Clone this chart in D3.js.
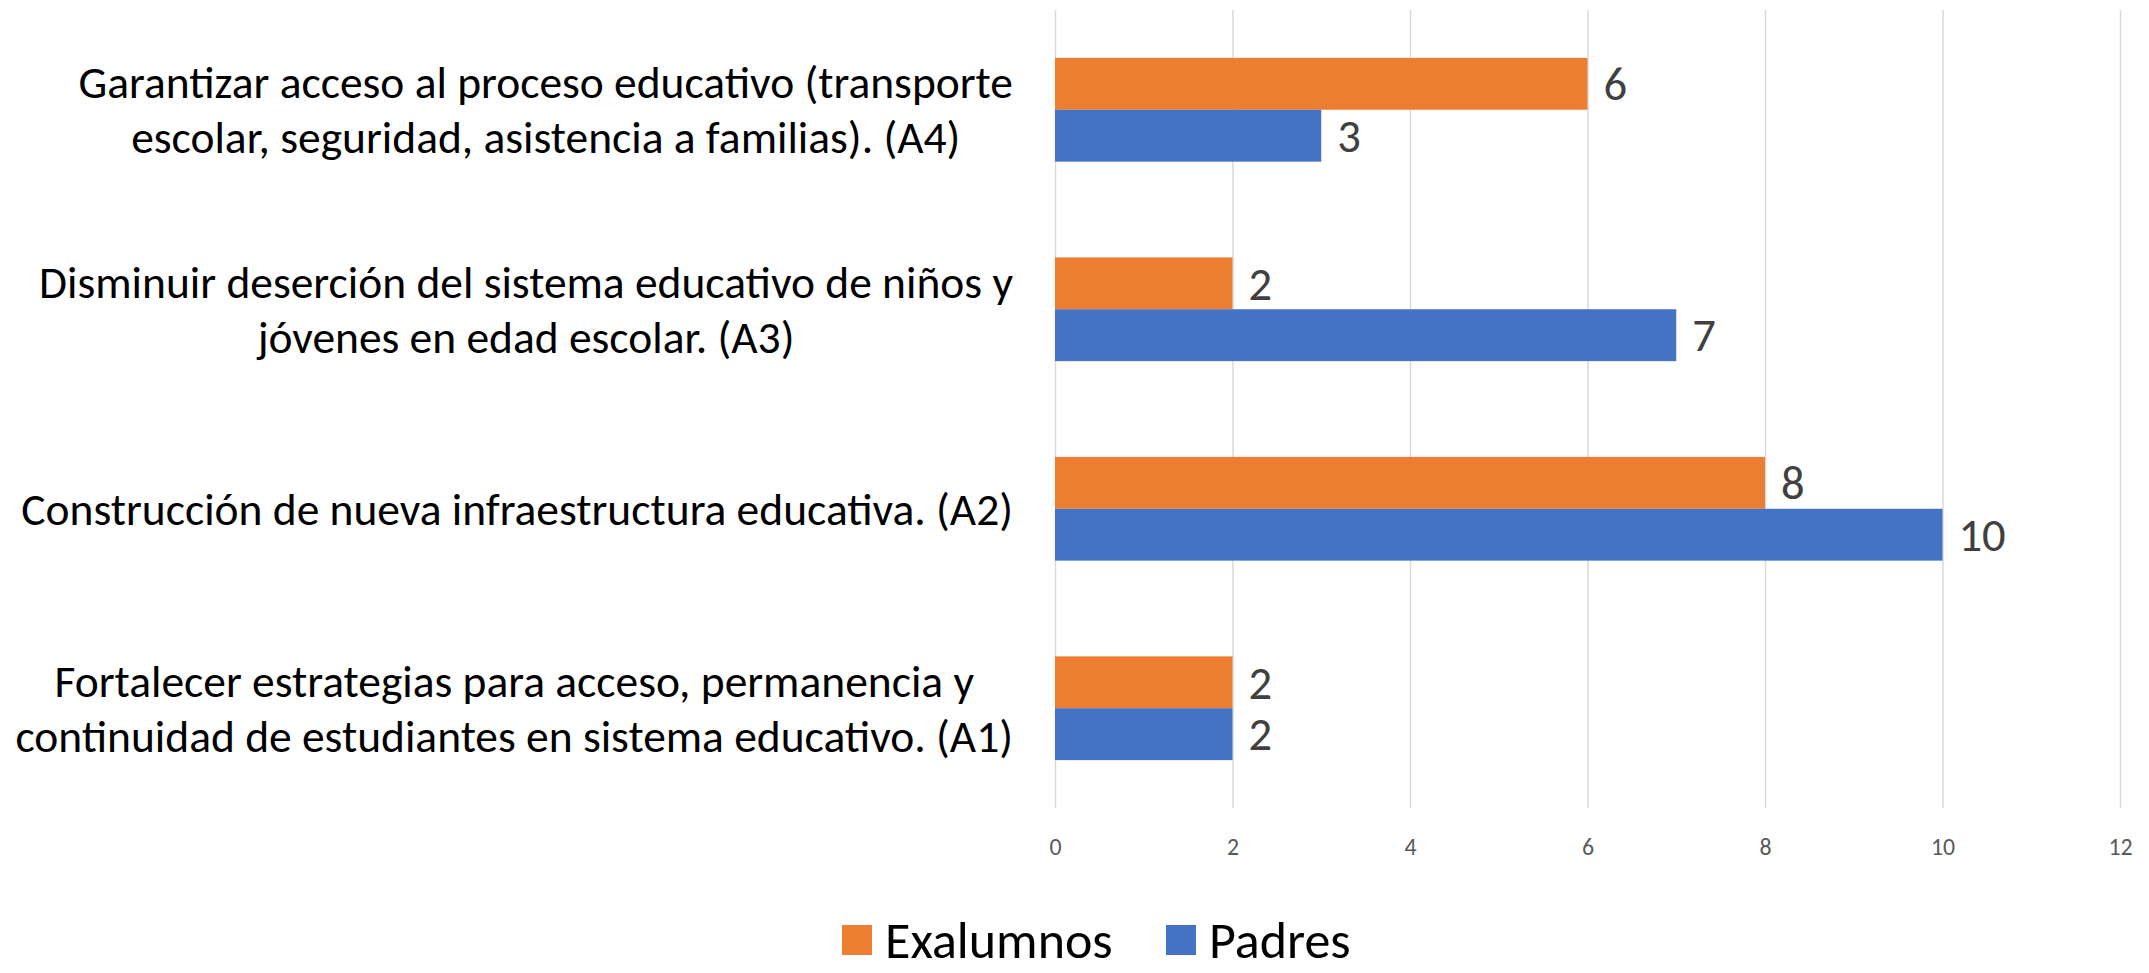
<html>
<head>
<meta charset="utf-8">
<script src="https://d3js.org/d3.v7.min.js"></script>
<style>
  body { margin: 0; background: #fff; }
  svg text { font-family: Calibri, Carlito, Lato, sans-serif; }
  .grid line { stroke: #d9d9d9; stroke-width: 1.5px; }
  .grid text { fill: #595959; }
  .cat { fill: #000; }
  .val { fill: #404040; }
</style>
</head>
<body>
<script>
// data
var categories = [
  ["Garantizar acceso al proceso educativo (transporte", "escolar, seguridad, asistencia a familias). (A4)"],
  ["Disminuir deserción del sistema educativo de niños y", "jóvenes en edad escolar. (A3)"],
  ["Construcción de nueva infraestructura educativa. (A2)"],
  ["Fortalecer estrategias para acceso, permanencia y", "continuidad de estudiantes en sistema educativo. (A1)"]
];
var codes = ["A4", "A3", "A2", "A1"];
var seriesNames = ["Exalumnos", "Padres"];
var exalumnos = [6, 2, 8, 2];
var padres = [3, 7, 10, 2];
var tickValues = [0, 2, 4, 6, 8, 10, 12];
var colors = ["#ed7d31", "#4472c4"];

var W = 2149, H = 973;
var plot = { left: 1055, right: 2120, top: 10, bottom: 808 };

var svg = d3.select("body").append("svg")
  .attr("width", W).attr("height", H);

// fit the font size to the reference width of the widest one-line label
var probe = svg.append("text").attr("font-size", 100).text(categories[2][0]);
var k = (992 / probe.node().getComputedTextLength()) * 100 / 42;
probe.remove();
var catFs = 42 * k, valFs = 43 * k, legFs = 48 * k, tickFs = 22 * k;

var x = d3.scaleLinear().domain([0, 12]).range([plot.left, plot.right]);
var y = d3.scaleBand().domain(codes).range([plot.top, plot.bottom])
  .paddingInner(0.48).paddingOuter(0.24);
var ys = d3.scaleBand().domain(seriesNames).range([0, y.bandwidth()]);

// gridlines + tick labels
var axis = svg.append("g")
  .attr("class", "grid")
  .attr("transform", "translate(0," + plot.bottom + ")")
  .call(d3.axisBottom(x).tickValues(tickValues)
    .tickSize(-(plot.bottom - plot.top)).tickPadding(30));
axis.select(".domain").remove();
axis.selectAll("text").attr("font-size", tickFs).style("font-family", null);

// bars
var rows = codes.map(function (c, i) {
  return { code: c, values: [exalumnos[i], padres[i]] };
});
var groups = svg.selectAll(".row").data(rows).enter().append("g")
  .attr("class", "row")
  .attr("transform", function (d) { return "translate(0," + y(d.code) + ")"; });

groups.selectAll("rect")
  .data(function (d) { return d.values.map(function (v, j) { return { s: seriesNames[j], v: v, j: j }; }); })
  .enter().append("rect")
  .attr("x", x(0))
  .attr("y", function (d) { return ys(d.s); })
  .attr("width", function (d) { return x(d.v) - x(0); })
  .attr("height", ys.bandwidth())
  .attr("fill", function (d) { return colors[d.j]; });

groups.selectAll(".val")
  .data(function (d) { return d.values.map(function (v, j) { return { s: seriesNames[j], v: v }; }); })
  .enter().append("text")
  .attr("class", "val")
  .attr("x", function (d) { return x(d.v) + 16; })
  .attr("y", function (d) { return ys(d.s) + ys.bandwidth() / 2; })
  .attr("dy", "0.35em")
  .attr("font-size", valFs)
  .text(function (d) { return d.v; });

// category labels: block right aligned, lines centred in the block
var labelRight = 1013, lineGap = 55;
codes.forEach(function (c, i) {
  var lines = categories[i];
  var g = svg.append("g");
  var texts = lines.map(function (t, n) {
    return g.append("text").attr("class", "cat")
      .attr("font-size", catFs)
      .attr("text-anchor", "middle")
      .attr("y", y(c) + y.bandwidth() / 2 + (n - (lines.length - 1) / 2) * lineGap)
      .attr("dy", "0.35em")
      .text(t);
  });
  var wmax = d3.max(texts, function (t) { return t.node().getComputedTextLength(); });
  texts.forEach(function (t) { t.attr("x", labelRight - wmax / 2); });
});

// legend
var legendX = [842, 1166], legendY = 940;
seriesNames.forEach(function (s, j) {
  svg.append("rect")
    .attr("x", legendX[j]).attr("y", legendY - 15)
    .attr("width", 30).attr("height", 30)
    .attr("fill", colors[j]);
  svg.append("text")
    .attr("x", legendX[j] + 43).attr("y", legendY)
    .attr("dy", "0.35em")
    .attr("font-size", legFs)
    .attr("fill", "#000")
    .text(s);
});
</script>
</body>
</html>
